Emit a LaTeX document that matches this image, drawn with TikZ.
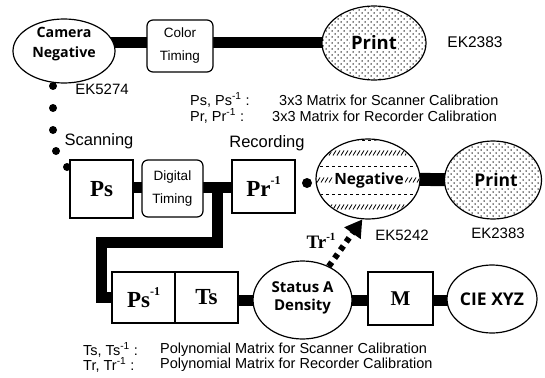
\documentclass[tikz,border=0pt]{standalone}
\usepackage{fontspec}
\setmainfont{Liberation Sans}
\newfontfamily\lblfont{Open Sans}
\newfontfamily\srffont{Liberation Serif}
\usetikzlibrary{arrows.meta,backgrounds,shapes.geometric}
\newcommand\myinv{\raisebox{0.5em}{\fontsize{12}{12}\selectfont -1}}
\newcommand\mystipple[4]{%
 \begin{scope}
 \clip (#1,#2) ellipse [x radius=#3-1, y radius=#4-1];
 \foreach \i in {-9,...,9}{\foreach \j in {-8,...,8}{
   \fill (#1+\i*6, #2+\j*6) circle (0.75);
   \fill (#1+\i*6+3, #2+\j*6+3) circle (0.75);}}
 \end{scope}}
\tikzset{
 conn/.style={line width=11pt, line join=miter},
 ell/.style={ellipse, draw, line width=1.2pt, fill=white, inner sep=0pt},
 sqbox/.style={rectangle, draw, line width=1.2pt, fill=white, inner sep=0pt},
 rbox/.style={rectangle, rounded corners=6pt, draw, line width=1.2pt, fill=white, inner sep=0pt, align=center, font=\fontsize{13.5}{23}\selectfont},
 elltxt/.style={align=center, inner sep=1pt},
 mat/.style={font=\srffont\bfseries\fontsize{23}{23}\selectfont},
 plain/.style={inner sep=0pt},
 blob/.style={circle, fill=black, inner sep=0pt, minimum size=8pt},
}
\begin{document}
\begin{tikzpicture}[x=1pt,y=-1pt]
\useasboundingbox (0,0) rectangle (545,377);

% dots from camera negative to scanning
\node[blob] (b1) at (53,86) {};
\node[blob] (b2) at (53,108) {};
\node[blob] (b3) at (53,130) {};
\node[blob] (b4) at (56,151) {};
\node[blob] (b5) at (67,167) {};

% top row
\node[ell, minimum width=102pt, minimum height=64pt] (cam) at (64,51) {};
\node[elltxt, font=\lblfont\bfseries\fontsize{14.2}{20}\selectfont] (camt) at (64,44) {Camera\\Negative};
\node[rbox, minimum width=66pt, minimum height=52pt] (ct) at (180,46) {Color\\Timing};
\node[ell, minimum width=104pt, minimum height=74pt] (pr1) at (374,43) {};
\mystipple{374}{43}{52}{37}
\node[elltxt, fill=white, font=\lblfont\bfseries\fontsize{18.5}{20}\selectfont] (pr1t) at (374,43) {Print};
\node[plain, font=\fontsize{15.5}{16}\selectfont] (ek1) at (475,42) {EK2383};
\node[plain, font=\fontsize{15}{16}\selectfont] (ek2) at (102,89) {EK5274};

% legend top
\node[plain, anchor=west, font=\fontsize{14.5}{15}\selectfont] (lg1) at (190,100) {Ps, Ps\textsuperscript{-1} :};
\node[plain, anchor=west, font=\fontsize{14.5}{15}\selectfont] (lg1b) at (279,100) {3x3 Matrix for Scanner Calibration};
\node[plain, anchor=west, font=\fontsize{14.5}{15}\selectfont] (lg2) at (190,116) {Pr, Pr\textsuperscript{-1} :};
\node[plain, anchor=west, font=\fontsize{14.5}{15}\selectfont] (lg2b) at (272,116) {3x3 Matrix for Recorder Calibration};

% second row
\node[plain, font=\fontsize{16.5}{17}\selectfont] (scan) at (99,141) {Scanning};
\node[plain, font=\fontsize{16.5}{17}\selectfont] (rec) at (267,143) {Recording};
\node[sqbox, mat, minimum width=63pt, minimum height=58pt] (ps) at (101.5,189) {Ps};
\node[rbox, minimum width=61pt, minimum height=57pt] (dt) at (172.5,188.5) {Digital\\Timing};
\node[sqbox, mat, minimum width=63pt, minimum height=53pt] (pr) at (263.5,186.5) {Pr\myinv};
\node[blob, minimum size=10pt] (b6) at (307,183) {};
\node[ell, minimum width=104pt, minimum height=80pt] (neg) at (368,179) {};
\begin{scope}
\clip (368,179) ellipse [x radius=51, y radius=39];
\foreach \r in {126,153,180,207}{\foreach \k in {0,...,28}{\draw[line width=0.8pt] (313+\k*4, \r+2.5) -- ++(3,-5);}}
\foreach \r in {140,166,194,221}{\foreach \k in {0,...,18}{\draw[line width=0.8pt] (314+\k*6,\r) -- ++(3,0);}}
\end{scope}
\node[elltxt, fill=white, font=\lblfont\bfseries\fontsize{15.5}{18}\selectfont] (negt) at (369,180) {Negative};
\node[ell, minimum width=97pt, minimum height=78pt] (pr2) at (493,180) {};
\mystipple{493}{180}{48.5}{39}
\node[elltxt, fill=white, font=\lblfont\bfseries\fontsize{17.5}{20}\selectfont] (pr2t) at (496,180) {Print};
\node[plain, font=\fontsize{15}{16}\selectfont] (ek3) at (402,235) {EK5242};
\node[plain, font=\fontsize{15}{16}\selectfont] (ek4) at (498,233) {EK2383};

% third row
\node[sqbox, mat, minimum width=63pt, minimum height=51pt] (pst) at (143.5,297.5) {Ps\myinv};
\node[sqbox, mat, minimum width=63pt, minimum height=51pt] (ts) at (206.5,297.5) {Ts};
\node[ell, minimum width=99pt, minimum height=78pt] (sa) at (302.5,300) {};
\node[elltxt, font=\lblfont\bfseries\fontsize{15}{18}\selectfont] (sat) at (302.5,298) {Status A\\Density};
\node[sqbox, mat, font=\srffont\bfseries\fontsize{21}{21}\selectfont, minimum width=65pt, minimum height=53pt] (m) at (400.5,298.5) {M};
\node[ell, minimum width=90pt, minimum height=68pt] (cie) at (492,299) {};
\node[elltxt, font=\lblfont\bfseries\fontsize{17.5}{20}\selectfont] (ciet) at (492,299) {CIE XYZ};
\node[plain, font=\srffont\bfseries\fontsize{19}{19}\selectfont] (trl) at (321,241) {Tr\raisebox{0.45em}{\fontsize{11}{11}\selectfont -1}};

% legend bottom
\node[plain, anchor=west, font=\fontsize{14.5}{15}\selectfont] (lg3) at (83,350) {Ts, Ts\textsuperscript{-1} :};
\node[plain, anchor=west, font=\fontsize{14.5}{15}\selectfont] (lg3b) at (160,350) {Polynomial Matrix for Scanner Calibration};
\node[plain, anchor=west, font=\fontsize{14.5}{15}\selectfont] (lg4) at (83,365) {Tr, Tr\textsuperscript{-1} :};
\node[plain, anchor=west, font=\fontsize{14.5}{15}\selectfont] (lg4b) at (160,365) {Polynomial Matrix for Recorder Calibration};

% connectors
\coordinate (jn) at (217,187);
\coordinate (c1) at (101,242);
\begin{scope}[on background layer]
\draw[conn] (cam.center |- pr1.center) -- (pr1.center);
\draw[conn] (ps.center |- jn) -- (pr.center |- jn);
\draw[conn] (jn) |- (c1) |- (pst.center);
\draw[conn] (pst.center |- sa.center) -- (cie.center |- sa.center);
\draw[line width=13pt] (neg.center) -- (pr2.center);
\end{scope}
\draw[line width=6pt, dash pattern=on 5pt off 5pt, -{Triangle[length=17pt,width=19pt]}] (sa.52) -- (neg.262);
\end{tikzpicture}
\end{document}
